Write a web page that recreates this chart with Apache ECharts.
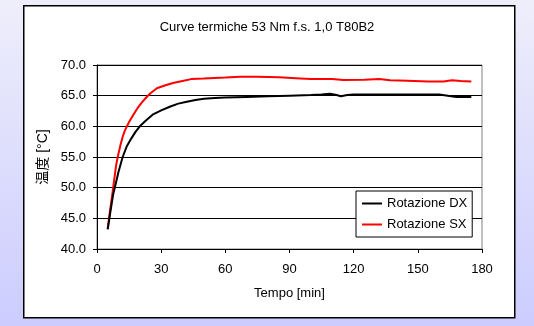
<!DOCTYPE html>
<html><head><meta charset="utf-8">
<script src="https://cdn.jsdelivr.net/npm/echarts@6/dist/echarts.min.js"></script>
<style>html,body{margin:0;padding:0;}#c{width:534px;height:326px;}</style>
</head><body><div id="c"></div>
<script>
var titleText = 'Curve termiche 53 Nm f.s. 1,0 T80B2';
var xName = 'Tempo [min]';
var yName = '温度 [°C]';
var seriesNames = ['Rotazione DX', 'Rotazione SX'];
var xTicks = [0, 30, 60, 90, 120, 150, 180];
var yTicks = [40, 45, 50, 55, 60, 65, 70];

var tDX = [5, 6, 7.5, 9, 10, 12, 14, 16, 18, 20, 23, 26, 30, 34, 38, 42, 46, 50, 55, 60, 70, 80, 90, 100, 105, 109, 112, 114, 117, 120, 130, 140, 150, 160, 164, 168, 172, 175];
var vDX = [43.2, 45.5, 48.8, 51.0, 52.5, 55.0, 56.8, 58.0, 59.1, 60.0, 61.0, 61.9, 62.6, 63.2, 63.7, 64.0, 64.3, 64.5, 64.6, 64.7, 64.8, 64.9, 65.0, 65.1, 65.2, 65.3, 65.1, 64.9, 65.1, 65.2, 65.2, 65.2, 65.2, 65.2, 65.0, 64.8, 64.8, 64.8];
var tSX = [5, 6, 7, 8, 9, 10, 11, 12, 13, 15, 17, 19, 21, 23, 25, 28, 32, 36, 40, 44, 50, 55, 60, 67, 75, 85, 95, 100, 110, 115, 125, 132, 137, 145, 155, 162, 166, 170, 175];
var vSX = [43.3, 46.0, 48.5, 51.2, 53.8, 55.5, 57.0, 58.3, 59.3, 60.7, 61.9, 63.0, 63.9, 64.7, 65.4, 66.2, 66.7, 67.1, 67.4, 67.7, 67.8, 67.9, 67.95, 68.1, 68.1, 68.0, 67.8, 67.7, 67.7, 67.55, 67.6, 67.7, 67.5, 67.45, 67.3, 67.3, 67.5, 67.4, 67.3];

function pairs(t, v) { return t.map(function (x, i) { return [x, v[i]]; }); }
var FONT = 'Arial, "Liberation Sans", "Noto Sans CJK JP", sans-serif';

var chart = echarts.init(document.getElementById('c'), null, {renderer: 'canvas'});
chart.setOption({
  animation: false,
  backgroundColor: {type: 'linear', x: 0, y: 0, x2: 0, y2: 1,
    colorStops: [{offset: 0, color: '#eeeefb'}, {offset: 1, color: '#ccccff'}]},
  graphic: [{type: 'rect', left: 23, top: 5, z: -10,
    shape: {width: 491, height: 312},
    style: {fill: '#ffffff', stroke: '#000000', lineWidth: 1.5}}],
  title: {text: titleText, left: 'center', top: 16,
    textStyle: {fontFamily: FONT, fontSize: 13, fontWeight: 'normal', color: '#000'}},
  grid: {left: 97, right: 52, top: 65, bottom: 77, show: true, borderColor: '#808080', borderWidth: 1, backgroundColor: 'transparent'},
  legend: {orient: 'vertical', left: 356, top: 191, padding: [6, 5, 6, 6],
    backgroundColor: '#fff', borderColor: '#000', borderWidth: 1, itemGap: 8,
    itemWidth: 20, itemHeight: 2, icon: 'rect',
    textStyle: {fontFamily: FONT, fontSize: 13, color: '#000'},
    data: seriesNames},
  xAxis: {type: 'value', min: xTicks[0], max: xTicks[xTicks.length - 1], interval: 30,
    name: xName, nameLocation: 'middle', nameGap: 38,
    nameTextStyle: {fontFamily: FONT, fontSize: 13, color: '#000'},
    axisLine: {show: true, lineStyle: {color: '#000', width: 1}},
    axisTick: {show: true, length: 4, lineStyle: {color: '#000'}},
    axisLabel: {fontFamily: FONT, fontSize: 13, color: '#000', margin: 14},
    splitLine: {show: false}},
  yAxis: {type: 'value', min: yTicks[0], max: yTicks[yTicks.length - 1], interval: 5,
    name: yName, nameLocation: 'middle', nameGap: 46, nameRotate: 90,
    nameTextStyle: {fontFamily: FONT, fontSize: 14, color: '#000'},
    axisLine: {show: true, lineStyle: {color: '#000', width: 1}},
    axisTick: {show: true, length: 4, lineStyle: {color: '#000'}},
    axisLabel: {fontFamily: FONT, fontSize: 13, color: '#000', margin: 11,
      formatter: function (v) { return v.toFixed(1); }},
    splitLine: {show: true, lineStyle: {color: '#000', width: 1}}},
  series: [
    {name: seriesNames[0], type: 'line', data: pairs(tDX, vDX), showSymbol: false, symbol: 'none',
      lineStyle: {color: '#000', width: 2}, itemStyle: {color: '#000'}, z: 3},
    {name: seriesNames[1], type: 'line', data: pairs(tSX, vSX), showSymbol: false, symbol: 'none',
      lineStyle: {color: '#ff0000', width: 2}, itemStyle: {color: '#ff0000'}, z: 2}
  ]
});
</script></body></html>
